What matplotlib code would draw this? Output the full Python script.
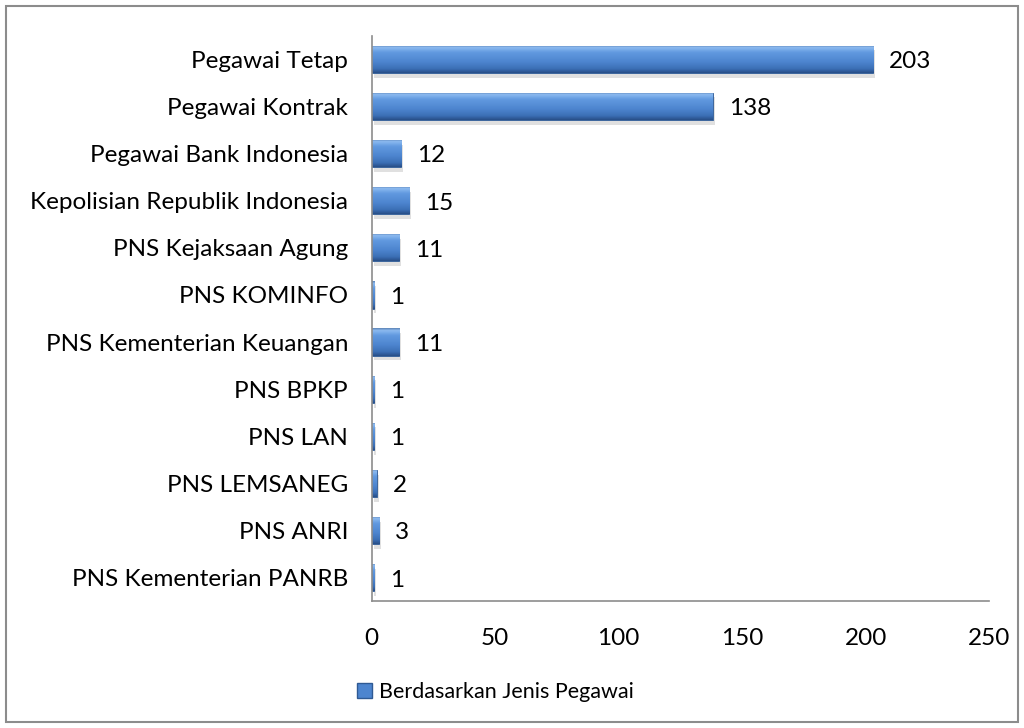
import matplotlib
matplotlib.use("Agg")
import matplotlib.pyplot as plt
import numpy as np
from matplotlib.colors import LinearSegmentedColormap
from matplotlib.patches import Rectangle

plt.rcParams['font.family'] = ['Lato', 'DejaVu Sans']

categories = [
    "Pegawai Tetap",
    "Pegawai Kontrak",
    "Pegawai Bank Indonesia",
    "Kepolisian Republik Indonesia",
    "PNS Kejaksaan Agung",
    "PNS KOMINFO",
    "PNS Kementerian Keuangan",
    "PNS BPKP",
    "PNS LAN",
    "PNS LEMSANEG",
    "PNS ANRI",
    "PNS Kementerian PANRB",
]
values = [203, 138, 12, 15, 11, 1, 11, 1, 1, 2, 3, 1]
x_ticks = [0, 50, 100, 150, 200, 250]
series_name = "Berdasarkan Jenis Pegawai"

FS = 17.5

fig = plt.figure(figsize=(10.24, 7.28), dpi=100)
ax = fig.add_axes([0.363, 0.174, 0.603, 0.777])

# bevel-ish gradient, top -> bottom
grad = LinearSegmentedColormap.from_list(
    "bar", [(0.0, "#5f86b8"), (0.08, "#8cbaf0"), (0.25, "#629ae0"),
            (0.6, "#4d85cf"), (0.85, "#3c70b6"), (1.0, "#284f88")])

y_pos = np.arange(len(categories))
bars = ax.barh(y_pos, values, height=0.58, color="#4d85cf",
               edgecolor="#2f5a94", linewidth=0.6, zorder=3)

for b, v in zip(bars, values):
    x0, y0 = b.get_x(), b.get_y()
    w, h = b.get_width(), b.get_height()
    # soft shadow under the bar
    ax.add_patch(Rectangle((x0 + 0.8, y0 + 0.1), w, h, facecolor="#000000",
                           alpha=0.12, linewidth=0, zorder=2))
    im = ax.imshow(np.linspace(0, 1, 64).reshape(-1, 1), cmap=grad,
                   extent=[x0, x0 + w, y0 + h, y0], aspect="auto", zorder=4,
                   origin="upper")
    im.set_clip_path(b)
    ax.text(v + 6.5, b.get_y() + h / 2 + 0.05, str(v), va="center", ha="left",
            fontsize=FS, color="black")

ax.set_xlim(0, 250)
ax.set_ylim(len(categories) - 0.5, -0.5)
ax.set_yticks(y_pos)
ax.set_yticklabels(categories, fontsize=FS)
ax.set_xticks(x_ticks)
ax.set_xticklabels([str(t) for t in x_ticks], fontsize=FS)
ax.tick_params(axis="both", length=0)
ax.tick_params(axis="x", pad=19)
ax.tick_params(axis="y", pad=17)

for s in ["top", "right"]:
    ax.spines[s].set_visible(False)
for s in ["left", "bottom"]:
    ax.spines[s].set_color("#8c8c8c")
    ax.spines[s].set_linewidth(1.2)
    ax.spines[s].set_zorder(5)

# legend
leg_handle = Rectangle((0, 0), 1, 1, facecolor="#4d85cf", edgecolor="#2f5a94")
fig.legend([leg_handle], [series_name], loc="center", bbox_to_anchor=(0.484, 0.049),
           frameon=False, fontsize=15.5, handlelength=0.7, handleheight=0.7,
           handletextpad=0.35)

# outer chart border
fig.patches.append(Rectangle((6 / 1024, 6 / 728), 1 - 12 / 1024, 1 - 12 / 728,
                             transform=fig.transFigure, fill=False,
                             edgecolor="#8c8c8c", linewidth=1.5))

fig.savefig("out.png", dpi=100)
